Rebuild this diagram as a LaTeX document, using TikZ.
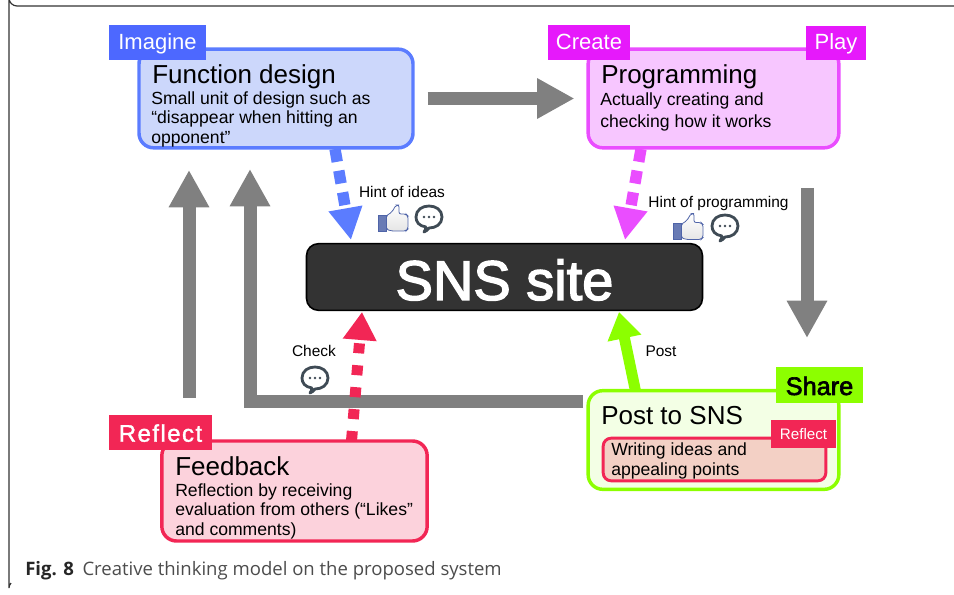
\documentclass[tikz,border=0pt]{standalone}
\usepackage{fontspec}
\setmainfont{Liberation Sans}
\newfontfamily\capfont{Open Sans}
\newfontfamily\snsfont[FakeBold=2.5]{Liberation Sans}
\newfontfamily\sharefont[FakeBold=2.5]{Liberation Sans}
\newfontfamily\reflectfont[LetterSpace=6,FakeBold=1.5]{Liberation Sans}
\usetikzlibrary{arrows.meta,backgrounds}

\definecolor{imagineblue}{HTML}{4D68FF}
\definecolor{fnline}{HTML}{5B7CFF}
\definecolor{fnfill}{HTML}{CCD7FB}
\definecolor{createpink}{HTML}{E619FB}
\definecolor{progline}{HTML}{EA4DFF}
\definecolor{progfill}{HTML}{F7C6FF}
\definecolor{sharegreen}{HTML}{8CFF00}
\definecolor{postfill}{HTML}{F3FFE5}
\definecolor{reflectred}{HTML}{F22655}
\definecolor{feedfill}{HTML}{FCD2DC}
\definecolor{writefill}{HTML}{F3D0C5}
\definecolor{iconslate}{HTML}{3F4B55}
\definecolor{thumbblue}{HTML}{4F64A8}

\tikzset{
	stagebox/.style={rounded corners=11pt,line width=2.6pt,minimum width=#1,inner sep=0pt},
	tag/.style={fill=#1,text=white,font=\fontsize{16.5}{18}\selectfont,inner sep=0pt,minimum height=26pt,text height=12pt,text depth=1.5pt},
	titletext/.style={font=\fontsize{19.5}{22}\selectfont,anchor=base west,inner sep=0pt},
	bodytext/.style={font=\fontsize{13.2}{14.7}\selectfont,align=left,anchor=north west,inner sep=0pt},
	hinttext/.style={font=\fontsize{11.6}{13}\selectfont,inner sep=0pt},
	grayarrow/.style={draw=gray,line width=9.75pt,-{Triangle[width=28.5pt,length=28pt]}},
	hintarrow/.style={draw=#1,line width=8.5pt,dash pattern=on 9.75pt off 6.75pt,-{Triangle[width=24pt,length=24pt,fill=#1]}},
	pics/bubbleicon/.style={code={
		\draw[iconslate,line width=2.1pt,fill=white,line join=round]
			(-3,9) .. controls (-10,8) and (-13,4) .. (-13,-1) .. controls (-13,-8) and (-7,-12) .. (0,-12)
			.. controls (7,-12) and (13,-8) .. (13,-1) .. controls (13,6) and (7,10) .. (0,10)
			.. controls (-1,12) and (-3,13) .. (-5,14) .. controls (-4,12) and (-3,11) .. (-3,9) -- cycle;
		\foreach \dotx in {-5,0,5}
			\fill[iconslate] (\dotx,-1) circle (1pt);
	}},
	pics/thumbicon/.style={code={
		\draw[thumbblue,line width=.6pt,top color=white,bottom color=black!10,rounded corners=1.5pt]
			(-7,-2) -- (-1,-6) -- (3,-13) -- (6,-13) -- (6,-4) -- (13,-4) -- (15,-2) -- (15,11) -- (13,13) -- (-2,13) -- (-7,11) -- cycle;
		\draw[thumbblue,line width=.6pt,fill=thumbblue!85] (-15,-3) rectangle (-7,13);
	}}
}

\begin{document}
\begin{tikzpicture}[x=.75pt,y=-.75pt]
	\useasboundingbox (0,0) rectangle (954,595);
	\draw[black!80,line width=.9pt] (954,6) -- (17,6) arc[start angle=90,end angle=180,radius=8] -- (9,588) arc[start angle=180,end angle=225,radius=7];

	\node(fn) [stagebox=205.5pt,draw=fnline,fill=fnfill,minimum height=74pt] at (276,98.5) {};
	\node(prog) [stagebox=188pt,draw=progline,fill=progfill,minimum height=74pt] at (713.5,98.5) {};
	\node(post) [stagebox=188pt,draw=sharegreen,fill=postfill,minimum height=74pt] at (713.5,440) {};
	\node(feed) [stagebox=199pt,draw=reflectred,fill=feedfill,minimum height=75pt] at (294.5,491) {};
	\node(write) [stagebox=167pt,rounded corners=6pt,line width=2.2pt,draw=reflectred,fill=writefill,minimum height=32pt] at (714.5,459.5) {};
	\node(sns) [draw=black,line width=1.2pt,fill=black!80,rounded corners=9pt,text=white,font=\snsfont\fontsize{42}{46}\selectfont,minimum width=297pt,minimum height=50pt,inner sep=0pt,text height=35pt,text depth=.5pt] at (504.5,277) {SNS site};

	\node(imagine) [tag=imagineblue,minimum width=73pt] at (157.5,42.5) {Imagine};
	\node(create) [tag=createpink,minimum width=62pt] at (589,42.5) {Create};
	\node(play) [tag=createpink,minimum width=45pt] at (836,43) {Play};
	\node(share) [tag=sharegreen,text=black,font=\sharefont\fontsize{19}{20}\selectfont,minimum width=65pt,minimum height=27pt,text height=15pt,text depth=0pt] at (819.5,385) {Share};
	\node(reflect) [tag=reflectred,font=\reflectfont\fontsize{18}{20}\selectfont,minimum width=77pt,text height=14pt,text depth=.2pt] at (160.5,432.5) {Reflect};
	\node(reflectsmall) [tag=reflectred,font=\fontsize{11.4}{13}\selectfont,minimum width=49pt,minimum height=21pt,text height=9pt,text depth=0pt] at (803.5,434) {Reflect};

	\node(fntitle) [titletext] at (152,84) {Function design};
	\node(fnbody) [bodytext] at (151,91) {Small unit of design such as\\``disappear when hitting an\\opponent''};
	\node(progtitle) [titletext] at (601,84) {Programming};
	\node(progbody) [bodytext,font=\fontsize{13.2}{16.5}\selectfont] at (600,92) {Actually creating and\\checking how it works};
	\node(posttitle) [titletext] at (601,425) {Post to SNS};
	\node(writebody) [bodytext,font=\fontsize{13.2}{15}\selectfont] at (611,442) {Writing ideas and\\appealing points};
	\node(feedtitle) [titletext] at (175,475) {Feedback};
	\node(feedbody) [bodytext] at (175,483) {Reflection by receiving\\evaluation from others (``Likes''\\and comments)};

	\node(hintideas) [hinttext] at (402,192) {Hint of ideas};
	\node(hintprog) [hinttext] at (718.5,203.5) {Hint of programming};
	\node(check) [hinttext] at (314,351) {Check};
	\node(posted) [hinttext] at (661,351) {Post};

	\pic(thumbideas) at (393,218) {thumbicon};
	\pic(bubbleideas) at (429,218) {bubbleicon};
	\pic(thumbprog) at (688,226.5) {thumbicon};
	\pic(bubbleprog) at (725,227) {bubbleicon};
	\pic(bubblecheck) at (315,379) {bubbleicon};

	\coordinate(progout) at (807,188);
	\coordinate(postin) at (807,338);
	\coordinate(leftfoot) at (189,398);
	\coordinate(lefthead) at (189,170);
	\coordinate(postleft) at (583,402);
	\coordinate(righthead) at (250,169);
	\coordinate(fnout) at (335,149);
	\coordinate(snsblue) at (351,240);
	\coordinate(progdash) at (641,149);
	\coordinate(snspink) at (625,240);
	\coordinate(feeddash) at (351.5,441);
	\coordinate(snsred) at (362,312);
	\coordinate(postup) at (635.5,391);
	\coordinate(snsgreen) at (619,312);

	\begin{scope}[on background layer]
		\draw[grayarrow,shorten <=9.75pt,shorten >=9pt] (fn) --(prog);
		\draw[grayarrow] (progout) --(postin);
		\draw[grayarrow] (leftfoot) --(lefthead);
		\draw[grayarrow] (postleft) -|(righthead);
		\draw[hintarrow=fnline] (fnout) --(snsblue);
		\draw[hintarrow=progline] (progdash) --(snspink);
		\draw[draw=reflectred,line width=8.25pt,dash pattern=on 7.5pt off 9pt,-{Triangle[width=24pt,length=21pt,fill=reflectred]}] (feeddash) --(snsred);
		\draw[draw=sharegreen,line width=8.25pt,-{Triangle[width=24.5pt,length=20pt,fill=sharegreen]}] (postup) --(snsgreen);
	\end{scope}

	\node(caption) [anchor=west,inner sep=0pt,text=black!70,font=\capfont\fontsize{13.9}{15}\selectfont] at (25,570.5) {\textcolor{black!85}{\bfseries Fig. 8}\hspace{6.5pt}Creative thinking model on the proposed system};
\end{tikzpicture}
\end{document}
